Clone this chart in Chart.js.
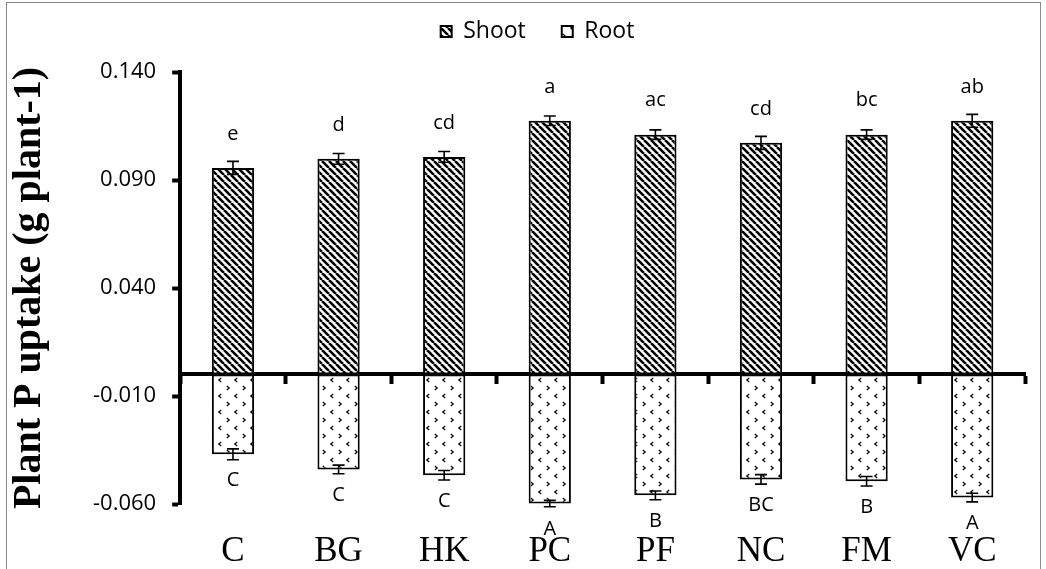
<!DOCTYPE html>
<html>
<head>
<meta charset="utf-8">
<script src="https://cdn.jsdelivr.net/npm/chart.js@4.4.1/dist/chart.umd.min.js"></script>
<style>
  body { margin: 0; background: #fff; }
  #wrap { position: relative; width: 1046px; height: 569px; overflow: hidden; }
  #frame { position: absolute; left: 6px; top: 2px; right: 5px; bottom: -4px; border: 1.5px solid #8a8a8a; pointer-events: none; }
</style>
</head>
<body>
<div id="wrap">
  <canvas id="chart" width="1046" height="569"></canvas>
  <div id="frame"></div>
</div>
<script>
const categories = ["C", "BG", "HK", "PC", "PF", "NC", "FM", "VC"];
const shootValues = [0.0956, 0.0998, 0.1007, 0.1174, 0.1110, 0.1072, 0.1110, 0.1174];
const rootValues = [-0.0370, -0.0440, -0.0467, -0.0598, -0.0560, -0.0486, -0.0495, -0.0570];
const shootErrors = [0.0030, 0.0025, 0.0025, 0.0022, 0.0022, 0.0030, 0.0022, 0.0030];
const rootErrors = [0.0025, 0.0020, 0.0022, 0.0015, 0.0020, 0.0022, 0.0022, 0.0020];
const shootLetters = ["e", "d", "cd", "a", "ac", "cd", "bc", "ab"];
const rootLetters = ["C", "C", "C", "A", "B", "BC", "B", "A"];
const yMin = -0.06, yMax = 0.14, yStep = 0.05;

/* hatch pattern for shoot */
function stripePattern() {
    const c = document.createElement("canvas");
    c.width = 7; c.height = 7;
    const g = c.getContext("2d");
    g.fillStyle = "#fff";
    g.fillRect(0, 0, 7, 7);
    g.strokeStyle = "#000";
    g.lineWidth = 2.6;
    g.beginPath();
    for (let k = -7; k <= 14; k += 7) {
        g.moveTo(k, 0);
        g.lineTo(k + 7, 7);
    }
    g.stroke();
    return g.createPattern(c, "repeat");
}

/* sparse < > marks for root */
function dotPattern() {
    const c = document.createElement("canvas");
    c.width = 16; c.height = 16;
    const g = c.getContext("2d");
    g.fillStyle = "#fff";
    g.fillRect(0, 0, 16, 16);
    g.strokeStyle = "#000";
    g.lineWidth = 1.2;
    const marks = [[4, 2, 1], [12, 10, -1]];
    marks.forEach(([x, y, d]) => {
        g.beginPath();
        g.moveTo(x - d * 1.2, y);
        g.lineTo(x + d * 1.2, y + 2);
        g.lineTo(x - d * 1.2, y + 4);
        g.stroke();
    });
    return g.createPattern(c, "repeat");
}

/* extra room under the legend, and nudge it right */
const legendSpacer = {
    id: "legendSpacer",
    beforeInit(chart) {
        const fit = chart.legend.fit;
        chart.legend.fit = function () {
            fit.bind(chart.legend)();
            this.height += 19;
        };
    },
    afterLayout(chart) {
        chart.legend.left += 22;
        chart.legend.right += 22;
    }
};

const errorBars = {
    id: "errorBars",
    afterDatasetsDraw(chart) {
        const ctx = chart.ctx;
        const y = chart.scales.y;
        const sets = [[0, shootValues, shootErrors], [1, rootValues, rootErrors]];
        ctx.save();
        ctx.strokeStyle = "#000";
        ctx.lineWidth = 1.6;
        sets.forEach(([di, vals, errs]) => {
            chart.getDatasetMeta(di).data.forEach((bar, i) => {
                const top = y.getPixelForValue(vals[i] + errs[i]);
                const bot = y.getPixelForValue(vals[i] - errs[i]);
                ctx.beginPath();
                ctx.moveTo(bar.x, top); ctx.lineTo(bar.x, bot);
                ctx.moveTo(bar.x - 6, top); ctx.lineTo(bar.x + 6, top);
                ctx.moveTo(bar.x - 6, bot); ctx.lineTo(bar.x + 6, bot);
                ctx.stroke();
            });
        });
        ctx.fillStyle = "#000";
        ctx.font = "20px 'Open Sans', sans-serif";
        ctx.textAlign = "center";
        ctx.textBaseline = "middle";
        chart.getDatasetMeta(0).data.forEach((bar, i) => {
            ctx.fillText(shootLetters[i], bar.x, bar.y - 34);
        });
        chart.getDatasetMeta(1).data.forEach((bar, i) => {
            ctx.fillText(rootLetters[i], bar.x, bar.y + 26);
        });
        ctx.restore();
    }
};

const shootFill = stripePattern();
const rootFill = dotPattern();

new Chart(document.getElementById("chart").getContext("2d"), {
    type: "bar",
    data: {
        labels: categories,
        datasets: [
            {
                label: "Shoot",
                data: shootValues,
                backgroundColor: shootFill,
                borderColor: "#000",
                borderWidth: 2,
                borderSkipped: false
            },
            {
                label: "Root",
                data: rootValues,
                backgroundColor: rootFill,
                borderColor: "#000",
                borderWidth: 2,
                borderSkipped: false
            }
        ]
    },
    options: {
        responsive: false,
        animation: false,
        categoryPercentage: 1,
        barPercentage: 0.4,
        layout: { padding: { left: 6, right: 21, top: -16, bottom: -23 } },
        plugins: {
            legend: {
                position: "top",
                labels: {
                    boxWidth: 11,
                    boxHeight: 11,
                    color: "#000",
                    padding: 36,
                    font: { family: "'Open Sans', sans-serif", size: 23 }
                }
            },
            tooltip: { enabled: false }
        },
        scales: {
            x: {
                stacked: true,
                border: { display: false },
                grid: { display: false },
                ticks: {
                    color: "#000",
                    padding: 19,
                    font: { family: "'Liberation Serif', serif", size: 35 }
                }
            },
            x2: {
                type: "category",
                position: { y: 0 },
                offset: true,
                z: 1,
                afterFit: s => { s.height = 0; },
                border: { display: true, width: 4, color: "#000" },
                grid: {
                    offset: true,
                    drawOnChartArea: false,
                    drawTicks: true,
                    tickLength: 8,
                    tickWidth: 4,
                    tickColor: "#000"
                },
                ticks: { display: false }
            },
            y: {
                stacked: true,
                min: yMin,
                max: yMax,
                border: { display: true, width: 4, color: "#000" },
                grid: {
                    drawOnChartArea: false,
                    tickLength: 8,
                    tickWidth: 4,
                    tickColor: "#000"
                },
                ticks: {
                    stepSize: yStep,
                    color: "#000",
                    padding: 16,
                    font: { family: "'Open Sans', sans-serif", size: 22 },
                    callback: v => v.toFixed(3)
                },
                title: {
                    display: true,
                    text: "Plant P uptake (g plant-1)",
                    color: "#000",
                    padding: { top: 0, bottom: 23 },
                    font: { family: "'Liberation Serif', serif", size: 40, weight: "bold" }
                }
            }
        }
    },
    plugins: [legendSpacer, errorBars]
});
</script>
</body>
</html>
